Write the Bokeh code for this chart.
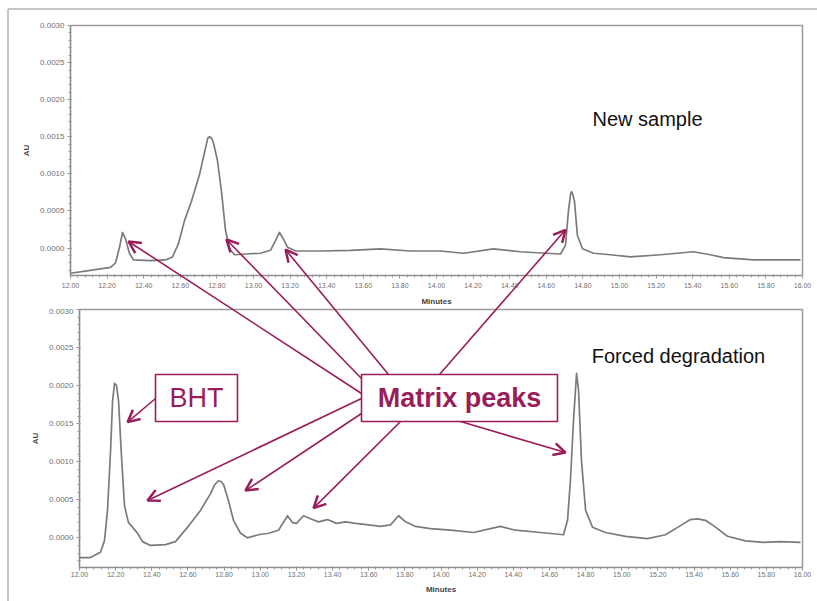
from bokeh.plotting import figure
from bokeh.models import (Arrow, OpenHead, BoxAnnotation, Label, FixedTicker,
                          PrintfTickFormatter, Range1d)
from bokeh.layouts import column
from bokeh.embed import file_html
from bokeh.resources import INLINE

# ---- chromatogram traces: retention time (min) vs absorbance (AU) ----
new_time = [12.000, 12.109, 12.219, 12.246, 12.268, 12.284, 12.301, 12.322, 12.344,
            12.437, 12.519, 12.557, 12.590, 12.623, 12.661, 12.705, 12.738, 12.750,
            12.760, 12.771, 12.781, 12.803, 12.825, 12.847, 12.869, 12.896, 12.956,
            13.038, 13.093, 13.120, 13.142, 13.164, 13.186, 13.230, 13.366, 13.530,
            13.694, 13.858, 14.022, 14.148, 14.311, 14.459, 14.596, 14.678, 14.705,
            14.721, 14.733, 14.738, 14.744, 14.754, 14.770, 14.798, 14.858, 14.951,
            15.060, 15.224, 15.404, 15.497, 15.568, 15.732, 15.880, 15.989]
new_au = [-0.00034, -0.00030, -0.00026, -0.00020, 0.00001, 0.00021, 0.00012, -0.00007,
          -0.00016, -0.00017, -0.00016, -0.00012, 0.00006, 0.00037, 0.00063, 0.00099,
          0.00135, 0.00148, 0.00150, 0.00148, 0.00142, 0.00118, 0.00076, 0.00024,
          -0.00001, -0.00009, -0.00008, -0.00007, -0.00003, 0.00010, 0.00021, 0.00012,
          0.00001, -0.00004, -0.00004, -0.00003, -0.00001, -0.00004, -0.00004,
          -0.00007, -0.00001, -0.00005, -0.00007, -0.00008, 0.00004, 0.00050, 0.00073,
          0.00076, 0.00073, 0.00063, 0.00017, -0.00001, -0.00007, -0.00009, -0.00012,
          -0.00009, -0.00005, -0.00009, -0.00013, -0.00016, -0.00016, -0.00016]

deg_time = [12.000, 12.061, 12.116, 12.138, 12.155, 12.172, 12.183, 12.194, 12.205,
            12.216, 12.232, 12.249, 12.271, 12.293, 12.321, 12.349, 12.393, 12.476,
            12.531, 12.598, 12.669, 12.725, 12.748, 12.769, 12.783, 12.797, 12.824,
            12.852, 12.891, 12.929, 12.990, 13.046, 13.101, 13.151, 13.178, 13.201,
            13.239, 13.278, 13.322, 13.372, 13.422, 13.472, 13.527, 13.599, 13.665,
            13.721, 13.765, 13.804, 13.859, 13.942, 14.053, 14.180, 14.274, 14.329,
            14.412, 14.550, 14.678, 14.700, 14.716, 14.733, 14.750, 14.761, 14.777,
            14.800, 14.838, 14.910, 15.021, 15.142, 15.242, 15.325, 15.380, 15.419,
            15.463, 15.519, 15.585, 15.685, 15.784, 15.878, 15.989]
deg_au = [-0.00026, -0.00026, -0.00019, -0.00004, 0.00036, 0.00115, 0.00180, 0.00203,
          0.00200, 0.00180, 0.00108, 0.00042, 0.00020, 0.00014, 0.00006, -0.00005,
          -0.00010, -0.00009, -0.00005, 0.00014, 0.00036, 0.00058, 0.00070, 0.00075,
          0.00074, 0.00070, 0.00049, 0.00023, 0.00006, 0.00000, 0.00004, 0.00006,
          0.00010, 0.00029, 0.00020, 0.00019, 0.00029, 0.00025, 0.00021, 0.00024,
          0.00019, 0.00021, 0.00019, 0.00017, 0.00015, 0.00017, 0.00029, 0.00021,
          0.00015, 0.00012, 0.00010, 0.00007, 0.00012, 0.00015, 0.00010, 0.00007,
          0.00004, 0.00023, 0.00075, 0.00154, 0.00216, 0.00194, 0.00102, 0.00036,
          0.00014, 0.00007, 0.00002, -0.00001, 0.00004, 0.00016, 0.00024, 0.00025,
          0.00023, 0.00014, 0.00002, -0.00004, -0.00006, -0.00005, -0.00006]

# ---- axis ticks ----
x_ticks = [12.00, 12.20, 12.40, 12.60, 12.80, 13.00, 13.20, 13.40, 13.60, 13.80, 14.00,
           14.20, 14.40, 14.60, 14.80, 15.00, 15.20, 15.40, 15.60, 15.80, 16.00]
y_ticks = [0.0000, 0.0005, 0.0010, 0.0015, 0.0020, 0.0025, 0.0030]

# ---- points the callout arrows point at (min, AU) ----
matrix_tips_new = [(12.317, 0.000157), (12.852, 0.000183), (13.175, 0.00005), (14.705, 0.00031)]
matrix_tips_deg = [(12.376, 0.00049), (12.918, 0.00062), (13.295, 0.00039), (14.689, 0.00112)]
bht_tip = (12.266, 0.00152)

MAG = "#9a1d5a"
TRACE = "#7b7b7b"
W, H = 817, 601
TOP_H, BOT_H = 308, 293
X0, X1 = 12.0, 16.0
TOP_Y = (-0.00037, 0.0030)
BOT_Y = (-0.00039, 0.0030)
# plot frames in page pixels: left, right, top, bottom
TOP_FRAME = (70, 802, 25, 281)
BOT_FRAME = (79, 802, 309, 567)


def to_data(frame, yr, px, py):
    l, r, t, b = frame
    x = X0 + (px - l) / (r - l) * (X1 - X0)
    y = yr[1] - (py - t) / (b - t) * (yr[1] - yr[0])
    return x, y


def to_page(frame, yr, x, y):
    l, r, t, b = frame
    px = l + (x - X0) / (X1 - X0) * (r - l)
    py = t + (yr[1] - y) / (yr[1] - yr[0]) * (b - t)
    return px, py


def panel(frame, yr, height, canvas_top, label_standoff, title_standoff):
    l, r, t, b = frame
    p = figure(width=W, height=height, x_range=Range1d(X0, X1), y_range=Range1d(*yr),
               output_backend="svg", toolbar_location=None, frame_align=False,
               min_border_left=l, min_border_right=W - r,
               min_border_top=t - canvas_top, min_border_bottom=canvas_top + height - b,
               x_axis_label="Minutes", y_axis_label="AU")
    p.grid.visible = False
    p.background_fill_color = "white"
    p.border_fill_color = "white"
    p.outline_line_color = "#9a9a9a"
    p.outline_line_width = 1.5

    p.xaxis.ticker = FixedTicker(ticks=x_ticks,
                                 minor_ticks=[X0 + i * 0.04 for i in range(101)])
    p.yaxis.ticker = FixedTicker(ticks=y_ticks,
                                 minor_ticks=[-0.0003 + i * 0.0001 for i in range(34)])
    p.xaxis.formatter = PrintfTickFormatter(format="%.2f")
    p.yaxis.formatter = PrintfTickFormatter(format="%.4f")
    for ax in (p.xaxis, p.yaxis):
        ax.axis_line_color = "#8a8a8a"
        ax.axis_line_width = 1.2
        ax.major_tick_line_color = "#8a8a8a"
        ax.minor_tick_line_color = "#9a9a9a"
        ax.major_tick_out = 3
        ax.major_tick_in = 1
        ax.minor_tick_out = 2
        ax.minor_tick_in = 1
        ax.major_label_text_font = "Liberation Sans"
        ax.major_label_text_color = "#707070"
        ax.axis_label_text_font = "Liberation Sans"
        ax.axis_label_text_font_size = "8px"
        ax.axis_label_text_font_style = "bold"
        ax.axis_label_text_color = "#444444"
    p.xaxis.major_label_text_font_size = "7px"
    p.yaxis.major_label_text_font_size = "8px"
    p.xaxis.major_label_standoff = label_standoff
    p.xaxis.axis_label_standoff = title_standoff
    p.yaxis.major_label_standoff = 3
    p.yaxis.axis_label_standoff = 6
    return p


top = panel(TOP_FRAME, TOP_Y, TOP_H, 0, 4, 6)
bot = panel(BOT_FRAME, BOT_Y, BOT_H, TOP_H, 1, 5)

top.line(new_time, new_au, line_color=TRACE, line_width=1.7, line_join="round")
bot.line(deg_time, deg_au, line_color=TRACE, line_width=1.7, line_join="round")

# callout boxes
for (l, r, t, b), text, style in (((155, 237, 374, 421), "BHT", "normal"),
                                  ((361, 557, 374, 421), "Matrix peaks", "bold")):
    x_l, y_t = to_data(BOT_FRAME, BOT_Y, l, t)
    x_r, y_b = to_data(BOT_FRAME, BOT_Y, r, b)
    bot.add_layout(BoxAnnotation(left=x_l, right=x_r, top=y_t, bottom=y_b,
                                 fill_color="white", fill_alpha=1.0,
                                 line_color=MAG, line_width=1.6, line_alpha=1.0))
    cx, cy = to_data(BOT_FRAME, BOT_Y, (l + r) / 2, (t + b) / 2)
    bot.add_layout(Label(x=cx, y=cy, text=text, text_align="center",
                         text_baseline="middle", text_font="Liberation Sans",
                         text_font_size="27px", text_font_style=style,
                         text_color=MAG))

# panel captions
x, y = to_data(TOP_FRAME, TOP_Y, 647, 121)
top.add_layout(Label(x=x, y=y, text="New sample", text_align="center",
                     text_baseline="middle", text_font="Liberation Sans",
                     text_font_size="20px", text_color="#111111"))
x, y = to_data(BOT_FRAME, BOT_Y, 678, 355)
bot.add_layout(Label(x=x, y=y, text="Forced degradation", text_align="center",
                     text_baseline="middle", text_font="Liberation Sans",
                     text_font_size="20px", text_color="#111111"))

# transparent page-sized layer for the callout arrows that cross both panels
ov = figure(width=W, height=H, x_range=Range1d(0, W), y_range=Range1d(H, 0),
            output_backend="svg", toolbar_location=None, min_border=0,
            frame_align=False, x_axis_location=None, y_axis_location=None,
            styles={"position": "absolute", "top": "0px", "left": "0px",
                    "pointer-events": "none"})
ov.grid.visible = False
ov.outline_line_color = None
ov.background_fill_alpha = 0
ov.border_fill_alpha = 0

# outer frame of the figure
GREY = "#b3b3b3"
ov.add_layout(Arrow(x_start=7.5, y_start=H + 5, x_end=7.5, y_end=8.5, end=None,
                    line_color=GREY, line_width=1.5))
ov.add_layout(Arrow(x_start=7.5, y_start=8.5, x_end=W + 5, y_end=8.5, end=None,
                    line_color=GREY, line_width=1.5))


def head():
    return OpenHead(size=12, line_color=MAG, line_width=2.5)


def callout(tail, frame, yr, tip):
    px, py = to_page(frame, yr, *tip)
    ov.add_layout(Arrow(x_start=tail[0], y_start=tail[1], x_end=px, y_end=py,
                        end=head(), line_color=MAG, line_width=1.6))


tails_new = [(361, 393), (361, 378), (388, 374), (439, 374)]
for tail, tip in zip(tails_new, matrix_tips_new):
    callout(tail, TOP_FRAME, TOP_Y, tip)

tails_deg = [(361, 398), (361, 413), (400, 421), (460, 421)]
for tail, tip in zip(tails_deg, matrix_tips_deg):
    callout(tail, BOT_FRAME, BOT_Y, tip)

callout((155, 398), BOT_FRAME, BOT_Y, bht_tip)

layout = column(top, bot, ov, spacing=0)
open("out.html", "w").write(file_html(layout, INLINE))
